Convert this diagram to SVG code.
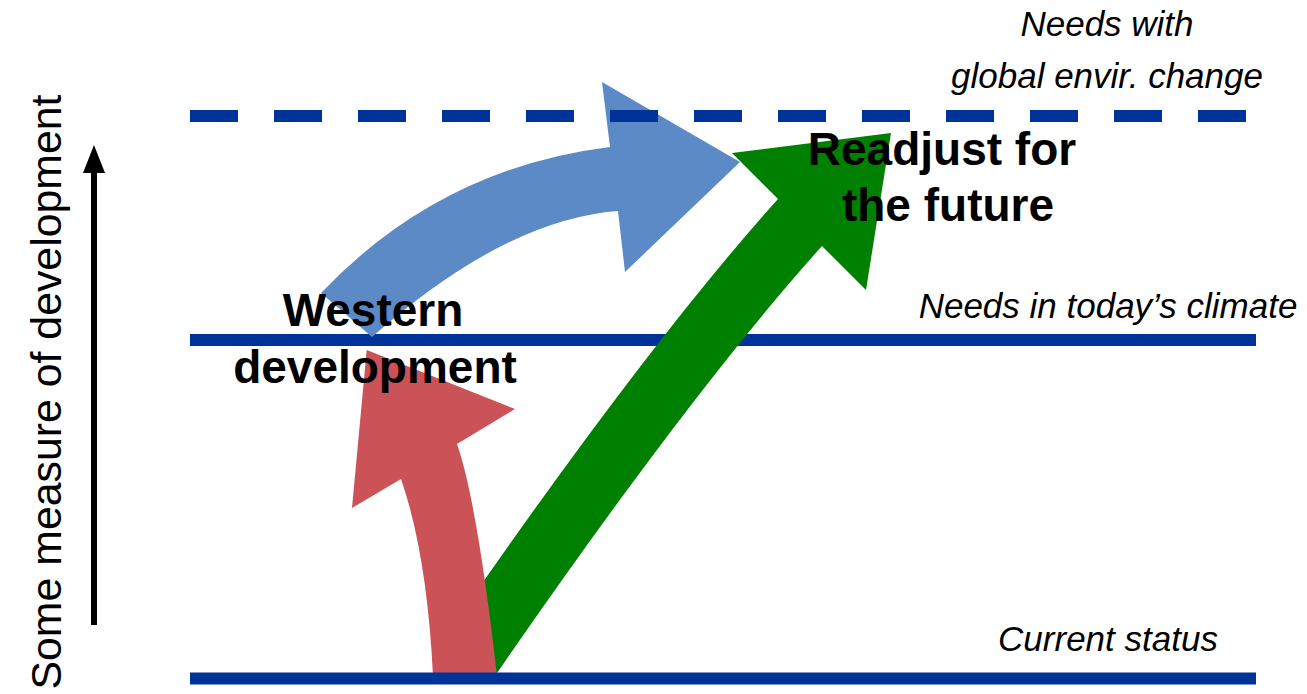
<svg xmlns="http://www.w3.org/2000/svg" width="1307" height="694" viewBox="0 0 1307 694">
  <style>
    .level { stroke: #003399; stroke-width: 12; fill: none; }
    .dashed { stroke-dasharray: 48 36; }
    .lvl-label { font-family: "Liberation Sans", Arial, sans-serif; font-style: italic; font-size: 35px; fill: #000; text-anchor: middle; }
    .big { font-family: "Liberation Sans", Arial, sans-serif; font-weight: bold; font-size: 46px; fill: #000; text-anchor: middle; }
    .axis-label { font-family: "Liberation Sans", Arial, sans-serif; font-size: 42px; fill: #000; text-anchor: middle; }
  </style>
  <rect width="1307" height="694" fill="#ffffff"/>

  <!-- axis -->
  <g id="axis">
    <line x1="94" y1="625" x2="94" y2="168" stroke="#000" stroke-width="6"/>
    <polygon points="94,145 83,173 105,173" fill="#000"/>
    <text class="axis-label" transform="translate(61,392) rotate(-90)" x="0" y="0" textLength="595" lengthAdjust="spacingAndGlyphs">Some measure of development</text>
  </g>

  <!-- level: today's climate (below arrows) -->
  <g id="level-today">
    <line class="level" x1="190" y1="340" x2="1256" y2="340"/>
    <text class="lvl-label" x="1108" y="318">Needs in today’s climate</text>
  </g>

  <g id="connectors">
    <path id="arrow-western-future" fill="#5B8AC6" d="M 372,337 L 321,293 Q 440,168 610,147 L 602,82 L 740,162 L 625,272 L 618,211 Q 505,219.5 372,337 Z"/>
    <path id="arrow-readjust" fill="#008000" d="M 891,133 L 866,290 L 822,246 Q 691.5,391 497,673 L 444,638 Q 644.8,347 778,199 L 732,153 Z"/>
    <path id="arrow-western" fill="#CB5256" d="M 366.7,350 L 515,409 L 457,444 Q 477,501 497,676 L 433,676 Q 427,554 401,479 L 352,508 Z"/>
  </g>

  <g id="level-current">
    <line class="level" x1="190" y1="678.5" x2="1256" y2="678.5"/>
    <text class="lvl-label" x="1108" y="651">Current status</text>
  </g>

  <g id="level-global">
    <line class="level dashed" x1="190" y1="116" x2="1246" y2="116"/>
    <text class="lvl-label" x="1107" y="36">Needs with</text>
    <text class="lvl-label" x="1107" y="88">global envir. change</text>
  </g>

  <g id="label-western">
    <text class="big" x="373" y="326">Western</text>
    <text class="big" x="375" y="383">development</text>
  </g>

  <g id="label-readjust">
    <text class="big" x="942" y="165">Readjust for</text>
    <text class="big" x="948" y="221">the future</text>
  </g>
</svg>
